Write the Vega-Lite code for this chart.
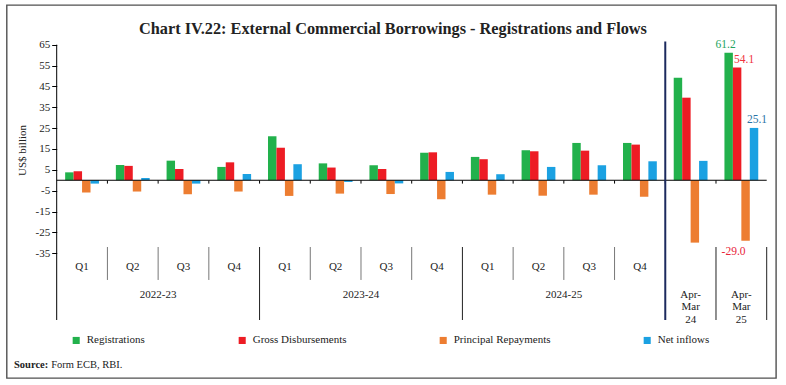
{
  "$schema": "https://vega.github.io/schema/vega-lite/v6.json",
  "width": 769.3,
  "height": 373,
  "autosize": {"type": "none"},
  "padding": {"left": 6.7, "top": 5, "right": 10, "bottom": 7},
  "background": "#ffffff",
  "title": {
    "text": "Chart IV.22: External Commercial Borrowings - Registrations and Flows",
    "font": "Liberation Serif",
    "fontSize": 16.3,
    "fontWeight": "bold",
    "color": "#222222",
    "anchor": "middle",
    "dx": 1.6,
    "offset": -32
  },
  "resolve": {"axis": {"y": "independent"}},
  "datasets": {
    "bars": [
      {"cat": "2022-23 Q1", "series": "Registrations", "value": 3.8},
      {"cat": "2022-23 Q1", "series": "Gross Disbursements", "value": 4.3},
      {"cat": "2022-23 Q1", "series": "Principal Repayments", "value": -5.9},
      {"cat": "2022-23 Q1", "series": "Net inflows", "value": -1.6},
      {"cat": "2022-23 Q2", "series": "Registrations", "value": 7.3},
      {"cat": "2022-23 Q2", "series": "Gross Disbursements", "value": 6.9},
      {"cat": "2022-23 Q2", "series": "Principal Repayments", "value": -5.4},
      {"cat": "2022-23 Q2", "series": "Net inflows", "value": 1.1},
      {"cat": "2022-23 Q3", "series": "Registrations", "value": 9.4},
      {"cat": "2022-23 Q3", "series": "Gross Disbursements", "value": 5.4},
      {"cat": "2022-23 Q3", "series": "Principal Repayments", "value": -6.7},
      {"cat": "2022-23 Q3", "series": "Net inflows", "value": -1.6},
      {"cat": "2022-23 Q4", "series": "Registrations", "value": 6.4},
      {"cat": "2022-23 Q4", "series": "Gross Disbursements", "value": 8.6},
      {"cat": "2022-23 Q4", "series": "Principal Repayments", "value": -5.4},
      {"cat": "2022-23 Q4", "series": "Net inflows", "value": 3.0},
      {"cat": "2023-24 Q1", "series": "Registrations", "value": 21.1},
      {"cat": "2023-24 Q1", "series": "Gross Disbursements", "value": 15.6},
      {"cat": "2023-24 Q1", "series": "Principal Repayments", "value": -7.5},
      {"cat": "2023-24 Q1", "series": "Net inflows", "value": 7.7},
      {"cat": "2023-24 Q2", "series": "Registrations", "value": 8.1},
      {"cat": "2023-24 Q2", "series": "Gross Disbursements", "value": 6.1},
      {"cat": "2023-24 Q2", "series": "Principal Repayments", "value": -6.4},
      {"cat": "2023-24 Q2", "series": "Net inflows", "value": -0.8},
      {"cat": "2023-24 Q3", "series": "Registrations", "value": 7.2},
      {"cat": "2023-24 Q3", "series": "Gross Disbursements", "value": 5.4},
      {"cat": "2023-24 Q3", "series": "Principal Repayments", "value": -6.6},
      {"cat": "2023-24 Q3", "series": "Net inflows", "value": -1.5},
      {"cat": "2023-24 Q4", "series": "Registrations", "value": 13.2},
      {"cat": "2023-24 Q4", "series": "Gross Disbursements", "value": 13.4},
      {"cat": "2023-24 Q4", "series": "Principal Repayments", "value": -9.1},
      {"cat": "2023-24 Q4", "series": "Net inflows", "value": 4.0},
      {"cat": "2024-25 Q1", "series": "Registrations", "value": 11.2},
      {"cat": "2024-25 Q1", "series": "Gross Disbursements", "value": 10.1},
      {"cat": "2024-25 Q1", "series": "Principal Repayments", "value": -6.9},
      {"cat": "2024-25 Q1", "series": "Net inflows", "value": 2.9},
      {"cat": "2024-25 Q2", "series": "Registrations", "value": 14.4},
      {"cat": "2024-25 Q2", "series": "Gross Disbursements", "value": 13.9},
      {"cat": "2024-25 Q2", "series": "Principal Repayments", "value": -7.4},
      {"cat": "2024-25 Q2", "series": "Net inflows", "value": 6.4},
      {"cat": "2024-25 Q3", "series": "Registrations", "value": 17.9},
      {"cat": "2024-25 Q3", "series": "Gross Disbursements", "value": 14.2},
      {"cat": "2024-25 Q3", "series": "Principal Repayments", "value": -6.9},
      {"cat": "2024-25 Q3", "series": "Net inflows", "value": 7.2},
      {"cat": "2024-25 Q4", "series": "Registrations", "value": 17.9},
      {"cat": "2024-25 Q4", "series": "Gross Disbursements", "value": 17.1},
      {"cat": "2024-25 Q4", "series": "Principal Repayments", "value": -7.9},
      {"cat": "2024-25 Q4", "series": "Net inflows", "value": 9.1},
      {"cat": "Apr-Mar 24", "series": "Registrations", "value": 49.2},
      {"cat": "Apr-Mar 24", "series": "Gross Disbursements", "value": 39.6},
      {"cat": "Apr-Mar 24", "series": "Principal Repayments", "value": -29.9},
      {"cat": "Apr-Mar 24", "series": "Net inflows", "value": 9.3},
      {"cat": "Apr-Mar 25", "series": "Registrations", "value": 61.2},
      {"cat": "Apr-Mar 25", "series": "Gross Disbursements", "value": 54.1},
      {"cat": "Apr-Mar 25", "series": "Principal Repayments", "value": -29.0},
      {"cat": "Apr-Mar 25", "series": "Net inflows", "value": 25.1}
    ],
    "bounds": [
      {"cat": "2022-23 Q2", "kind": "q"},
      {"cat": "2022-23 Q3", "kind": "q"},
      {"cat": "2022-23 Q4", "kind": "q"},
      {"cat": "2023-24 Q1", "kind": "y"},
      {"cat": "2023-24 Q2", "kind": "q"},
      {"cat": "2023-24 Q3", "kind": "q"},
      {"cat": "2023-24 Q4", "kind": "q"},
      {"cat": "2024-25 Q1", "kind": "y"},
      {"cat": "2024-25 Q2", "kind": "q"},
      {"cat": "2024-25 Q3", "kind": "q"},
      {"cat": "2024-25 Q4", "kind": "q"},
      {"cat": "Apr-Mar 24", "kind": "navy"},
      {"cat": "Apr-Mar 25", "kind": "y"}
    ],
    "qlab": [
      {"cat": "2022-23 Q1", "label": "Q1"},
      {"cat": "2022-23 Q2", "label": "Q2"},
      {"cat": "2022-23 Q3", "label": "Q3"},
      {"cat": "2022-23 Q4", "label": "Q4"},
      {"cat": "2023-24 Q1", "label": "Q1"},
      {"cat": "2023-24 Q2", "label": "Q2"},
      {"cat": "2023-24 Q3", "label": "Q3"},
      {"cat": "2023-24 Q4", "label": "Q4"},
      {"cat": "2024-25 Q1", "label": "Q1"},
      {"cat": "2024-25 Q2", "label": "Q2"},
      {"cat": "2024-25 Q3", "label": "Q3"},
      {"cat": "2024-25 Q4", "label": "Q4"},
      {"cat": "Apr-Mar 24", "label": ""},
      {"cat": "Apr-Mar 25", "label": ""}
    ],
    "ylab": [
      {"cat": "2022-23 Q3", "label": "2022-23"},
      {"cat": "2023-24 Q3", "label": "2023-24"},
      {"cat": "2024-25 Q3", "label": "2024-25"}
    ],
    "alab": [
      {"cat": "Apr-Mar 24", "label": ["Apr-", "Mar", "24"]},
      {"cat": "Apr-Mar 25", "label": ["Apr-", "Mar", "25"]}
    ]
  },
  "layer": [
    {
      "data": {"name": "bars"},
      "mark": {"type": "bar"},
      "encoding": {
        "x": {
          "field": "cat", "type": "nominal",
          "scale": {"range": [50, 760], "paddingInner": 0, "paddingOuter": 0},
          "axis": null
        },
        "xOffset": {
          "field": "series", "type": "nominal",
          "scale": {"domain": ["Registrations", "Gross Disbursements", "Principal Repayments", "Net inflows"], "paddingInner": 0, "paddingOuter": 1.17}
        },
        "y": {
          "field": "value", "type": "quantitative",
          "scale": {"domain": [-94.81, 84.04], "nice": false, "zero": false},
          "axis": {
            "orient": "left",
            "values": [-35, -15, 5, 25, 45, 65],
            "labelOverlap": false,
            "domain": false,
            "title": "US$ billion"
          }
        },
        "color": {
          "field": "series", "type": "nominal",
          "scale": {
            "domain": ["Registrations", "Gross Disbursements", "Principal Repayments", "Net inflows"],
            "range": ["#22b14c", "#ed1c24", "#ed7d31", "#1ba1e2"]
          },
          "legend": {
            "orient": "none",
            "legendX": 64,
            "legendY": 329.7,
            "direction": "horizontal",
            "columns": 4,
            "columnPadding": 91,
            "gridAlign": "each",
            "title": null,
            "padding": 0,
            "symbolType": "square",
            "symbolSize": 50,
            "symbolStrokeWidth": 0,
            "labelFont": "Liberation Serif",
            "labelFontSize": 11,
            "labelColor": "#222222",
            "labelOffset": 5
          }
        }
      }
    },
    {
      "data": {"name": "qlab"},
      "mark": {"type": "rect", "color": "#000000"},
      "encoding": {
        "x": {"field": "cat", "type": "nominal", "axis": null},
        "y": {
          "datum": 0.25,
          "axis": {
            "orient": "left",
            "values": [-25, -5, 15, 35, 55],
            "labelOverlap": false,
            "domain": false,
            "title": null
          }
        },
        "y2": {"datum": -0.25}
      }
    },
    {
      "data": {"name": "qlab"},
      "transform": [{"filter": "datum.cat === '2022-23 Q1'"}],
      "mark": {"type": "rule", "color": "#000000", "strokeWidth": 1},
      "encoding": {
        "x": {"field": "cat", "type": "nominal", "bandPosition": 0, "axis": null},
        "y": {"datum": 65, "axis": null},
        "y2": {"datum": -67}
      }
    },
    {
      "data": {"name": "bounds"},
      "mark": {"type": "rule", "color": "#000000", "strokeWidth": 1},
      "encoding": {
        "x": {"field": "cat", "type": "nominal", "bandPosition": 0, "axis": null},
        "y": {"datum": 0, "axis": null},
        "y2": {"datum": -1.6}
      }
    },
    {
      "data": {"name": "bounds"},
      "transform": [{"filter": "datum.kind === 'q'"}],
      "mark": {"type": "rule", "color": "#777777", "strokeWidth": 1},
      "encoding": {
        "x": {"field": "cat", "type": "nominal", "bandPosition": 0, "axis": null},
        "y": {"datum": -32, "axis": null},
        "y2": {"datum": -47.8}
      }
    },
    {
      "data": {"name": "bounds"},
      "transform": [{"filter": "datum.kind === 'y'"}],
      "mark": {"type": "rule", "color": "#222222", "strokeWidth": 1},
      "encoding": {
        "x": {"field": "cat", "type": "nominal", "bandPosition": 0, "axis": null},
        "y": {"datum": -32, "axis": null},
        "y2": {"datum": -67}
      }
    },
    {
      "data": {"name": "alab"},
      "transform": [{"filter": "datum.cat === 'Apr-Mar 25'"}],
      "mark": {"type": "rule", "color": "#222222", "strokeWidth": 1},
      "encoding": {
        "x": {"field": "cat", "type": "nominal", "bandPosition": 1, "axis": null},
        "y": {"datum": -32, "axis": null},
        "y2": {"datum": -67}
      }
    },
    {
      "data": {"name": "bounds"},
      "transform": [{"filter": "datum.kind === 'navy'"}],
      "mark": {"type": "rule", "color": "#1c2a5e", "strokeWidth": 2},
      "encoding": {
        "x": {"field": "cat", "type": "nominal", "bandPosition": 0, "axis": null},
        "y": {"datum": 66.5, "axis": null},
        "y2": {"datum": -67}
      }
    },
    {
      "data": {"name": "qlab"},
      "mark": {"type": "text", "font": "Liberation Serif", "fontSize": 11, "color": "#222222", "baseline": "middle"},
      "encoding": {
        "x": {"field": "cat", "type": "nominal", "axis": null},
        "y": {"datum": -41.4, "axis": null},
        "text": {"field": "label"}
      }
    },
    {
      "data": {"name": "ylab"},
      "mark": {"type": "text", "font": "Liberation Serif", "fontSize": 11, "color": "#222222", "baseline": "middle"},
      "encoding": {
        "x": {"field": "cat", "type": "nominal", "bandPosition": 0, "axis": null},
        "y": {"datum": -55, "axis": null},
        "text": {"field": "label"}
      }
    },
    {
      "data": {"name": "alab"},
      "mark": {"type": "text", "font": "Liberation Serif", "fontSize": 11, "color": "#222222", "baseline": "middle", "lineHeight": 12.5},
      "encoding": {
        "x": {"field": "cat", "type": "nominal", "axis": null},
        "y": {"datum": -55, "axis": null},
        "text": {"field": "label"}
      }
    },
    {
      "data": {"name": "bars"},
      "transform": [{"filter": "datum.cat === 'Apr-Mar 25' && datum.series === 'Registrations'"}],
      "mark": {"type": "text", "font": "Liberation Serif", "fontSize": 11.5, "color": "#23a35e", "baseline": "bottom", "dy": -3, "dx": -3},
      "encoding": {
        "x": {"field": "cat", "type": "nominal", "axis": null},
        "xOffset": {"field": "series", "type": "nominal"},
        "y": {"field": "value", "type": "quantitative", "axis": null},
        "text": {"field": "value", "type": "quantitative", "format": ".1f"}
      }
    },
    {
      "data": {"name": "bars"},
      "transform": [{"filter": "datum.cat === 'Apr-Mar 25' && datum.series === 'Gross Disbursements'"}],
      "mark": {"type": "text", "font": "Liberation Serif", "fontSize": 11.5, "color": "#ef3340", "baseline": "bottom", "dy": -2, "dx": 7},
      "encoding": {
        "x": {"field": "cat", "type": "nominal", "axis": null},
        "xOffset": {"field": "series", "type": "nominal"},
        "y": {"field": "value", "type": "quantitative", "axis": null},
        "text": {"field": "value", "type": "quantitative", "format": ".1f"}
      }
    },
    {
      "data": {"name": "bars"},
      "transform": [{"filter": "datum.cat === 'Apr-Mar 25' && datum.series === 'Principal Repayments'"}],
      "mark": {"type": "text", "font": "Liberation Serif", "fontSize": 11.5, "color": "#e8253a", "baseline": "top", "dy": 5, "dx": -12},
      "encoding": {
        "x": {"field": "cat", "type": "nominal", "axis": null},
        "xOffset": {"field": "series", "type": "nominal"},
        "y": {"field": "value", "type": "quantitative", "axis": null},
        "text": {"field": "value", "type": "quantitative", "format": ".1f"}
      }
    },
    {
      "data": {"name": "bars"},
      "transform": [{"filter": "datum.cat === 'Apr-Mar 25' && datum.series === 'Net inflows'"}],
      "mark": {"type": "text", "font": "Liberation Serif", "fontSize": 11.5, "color": "#2a74a6", "baseline": "bottom", "dy": -3, "dx": 3},
      "encoding": {
        "x": {"field": "cat", "type": "nominal", "axis": null},
        "xOffset": {"field": "series", "type": "nominal"},
        "y": {"field": "value", "type": "quantitative", "axis": null},
        "text": {"field": "value", "type": "quantitative", "format": ".1f"}
      }
    },
    {
      "data": {"name": "qlab"},
      "transform": [{"filter": "datum.cat === '2022-23 Q1'"}],
      "mark": {"type": "text", "font": "Liberation Serif", "fontSize": 10.5, "fontWeight": "bold", "color": "#222222", "align": "left", "baseline": "middle", "dx": -42.7},
      "encoding": {
        "x": {"field": "cat", "type": "nominal", "bandPosition": 0, "axis": null},
        "y": {"datum": -88.5, "axis": null},
        "text": {"value": "Source:"}
      }
    },
    {
      "data": {"name": "qlab"},
      "transform": [{"filter": "datum.cat === '2022-23 Q1'"}],
      "mark": {"type": "text", "font": "Liberation Serif", "fontSize": 10.5, "color": "#222222", "align": "left", "baseline": "middle", "dx": -5.5},
      "encoding": {
        "x": {"field": "cat", "type": "nominal", "bandPosition": 0, "axis": null},
        "y": {"datum": -88.5, "axis": null},
        "text": {"value": "Form ECB, RBI."}
      }
    }
  ],
  "config": {
    "view": {"stroke": "#505050", "strokeWidth": 1.4},
    "font": "Liberation Serif",
    "axisY": {
      "offset": -50,
      "labelOverlap": false,
      "titleFont": "Liberation Serif",
      "titleFontSize": 11,
      "titleFontWeight": "normal",
      "titleColor": "#222222",
      "titleX": -29,
      "titleY": 145,
      "labelFont": "Liberation Serif",
      "labelFontSize": 11,
      "labelColor": "#222222",
      "labelPadding": 2,
      "tickSize": 5,
      "tickColor": "#000000",
      "grid": false
    },
    "locale": {
      "number": {"decimal": ".", "thousands": ",", "grouping": [3], "currency": ["$", ""], "minus": "-"}
    }
  }
}
